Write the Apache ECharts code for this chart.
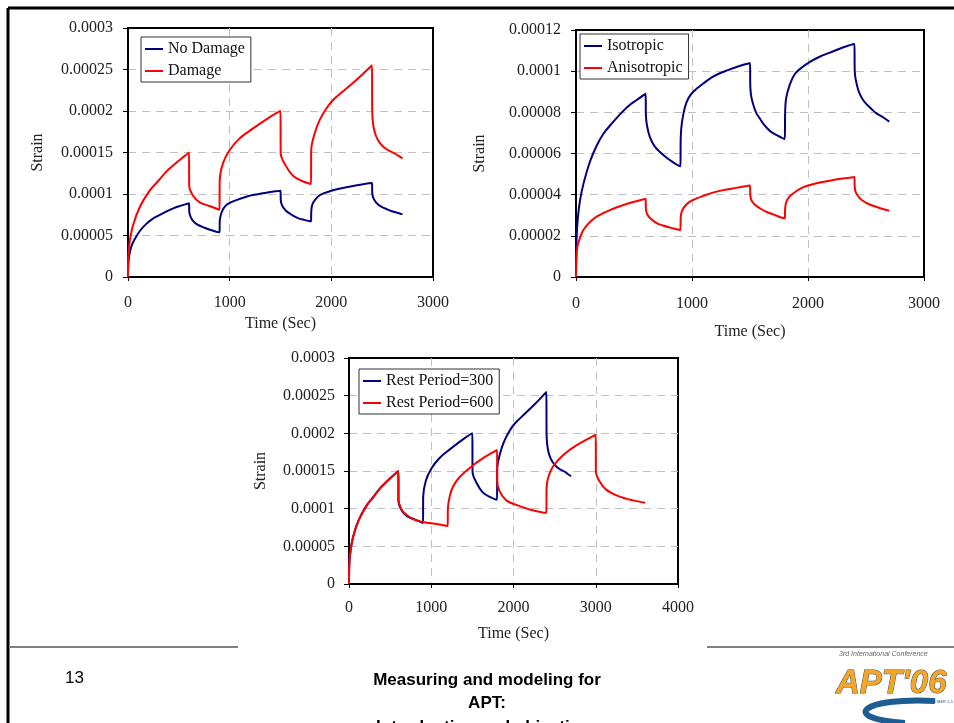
<!DOCTYPE html>
<html lang="en">
<head>
    <meta charset="UTF-8">
    <title>Strain vs Time - Damage / Anisotropy / Rest Period</title>
    <script src="https://cdn.jsdelivr.net/npm/echarts@6/dist/echarts.min.js"></script>
    <style>
        html, body { margin: 0; padding: 0; background: #fff; }
        #main { width: 954px; height: 723px; }
    </style>
</head>
<body>
    <div id="main"></div>
    <script>
        // [time (s), strain] pairs
        var noDamage = [
            [0,0],[2,1.2e-5],[6,2.0e-5],[15,2.8e-5],[34,3.7e-5],[63,4.5e-5],[120,5.6e-5],[180,6.4e-5],[235,6.95e-5],[300,7.4e-5],[379,7.9e-5],[450,8.3e-5],[523,8.6e-5],[600,8.9e-5],
            [603,7.8e-5],[614,7.3e-5],[637,6.8e-5],[680,6.33e-5],[752,5.93e-5],[838,5.57e-5],[900,5.38e-5],
            [903,6.8e-5],[913,7.5e-5],[939,8.25e-5],[970,8.7e-5],[1011,9.0e-5],[1097,9.4e-5],[1170,9.7e-5],[1240,9.9e-5],[1310,1.005e-4],[1384,1.02e-4],[1450,1.032e-4],[1500,1.04e-4],
            [1503,9.2e-5],[1513,8.7e-5],[1535,8.25e-5],[1556,7.95e-5],[1585,7.7e-5],[1614,7.45e-5],[1671,7.1e-5],[1735,6.88e-5],[1800,6.7e-5],
            [1803,8.0e-5],[1812,8.7e-5],[1843,9.35e-5],[1885,9.85e-5],[1929,1.01e-4],[2016,1.045e-4],[2100,1.07e-4],[2188,1.09e-4],[2300,1.115e-4],[2400,1.132e-4],
            [2403,1.0e-4],[2411,9.6e-5],[2430,9.15e-5],[2446,8.9e-5],[2475,8.6e-5],[2504,8.4e-5],[2550,8.15e-5],[2590,7.95e-5],[2650,7.75e-5],[2700,7.55e-5]
        ];
        var damage = [
            [0,0],[3,2.4e-5],[16,4.2e-5],[49,6.2e-5],[115,8.4e-5],[213,1.04e-4],[300,1.16e-4],[377,1.27e-4],[450,1.35e-4],[508,1.41e-4],[600,1.5e-4],
            [602,1.1e-4],[640,9.8e-5],[705,9.0e-5],[803,8.55e-5],[900,8.1e-5],
            [902,1.16e-4],[934,1.37e-4],[1000,1.53e-4],[1098,1.67e-4],[1230,1.79e-4],[1361,1.9e-4],[1500,2.0e-4],
            [1502,1.49e-4],[1557,1.33e-4],[1623,1.22e-4],[1705,1.16e-4],[1800,1.12e-4],
            [1802,1.53e-4],[1836,1.73e-4],[1885,1.89e-4],[1951,2.03e-4],[2016,2.13e-4],[2148,2.27e-4],[2279,2.41e-4],[2400,2.55e-4],
            [2402,2.0e-4],[2410,1.85e-4],[2426,1.75e-4],[2450,1.67e-4],[2475,1.62e-4],[2520,1.56e-4],[2570,1.52e-4],[2623,1.49e-4],[2660,1.46e-4],[2700,1.43e-4]
        ];
        var isotropic = noDamage;
        var anisotropic = [
            [0,0],[2,6e-6],[5,1.0e-5],[11,1.45e-5],[34,1.9e-5],[60,2.25e-5],[92,2.5e-5],[130,2.72e-5],[178,2.93e-5],[235,3.1e-5],[293,3.25e-5],[360,3.4e-5],[436,3.55e-5],[520,3.68e-5],[600,3.8e-5],
            [603,3.3e-5],[614,3.05e-5],[640,2.85e-5],[695,2.62e-5],[750,2.5e-5],[810,2.4e-5],[860,2.33e-5],[900,2.28e-5],
            [903,2.9e-5],[913,3.2e-5],[940,3.45e-5],[982,3.66e-5],[1040,3.82e-5],[1097,3.94e-5],[1180,4.1e-5],[1269,4.22e-5],[1380,4.33e-5],[1500,4.45e-5],
            [1503,3.95e-5],[1513,3.72e-5],[1545,3.5e-5],[1585,3.34e-5],[1640,3.17e-5],[1700,3.04e-5],[1750,2.93e-5],[1800,2.85e-5],
            [1803,3.35e-5],[1813,3.65e-5],[1840,3.9e-5],[1872,4.06e-5],[1930,4.28e-5],[1987,4.42e-5],[2080,4.57e-5],[2188,4.68e-5],[2300,4.78e-5],[2400,4.86e-5],
            [2403,4.35e-5],[2413,4.1e-5],[2440,3.87e-5],[2460,3.75e-5],[2510,3.58e-5],[2561,3.46e-5],[2630,3.33e-5],[2700,3.22e-5]
        ];
        var rest300 = damage;
        var rest600 = [
            [0,0],[3,2.4e-5],[16,4.2e-5],[49,6.2e-5],[115,8.4e-5],[213,1.04e-4],[300,1.16e-4],[377,1.27e-4],[450,1.35e-4],[508,1.41e-4],[600,1.5e-4],
            [602,1.1e-4],[616,1.05e-4],[657,9.6e-5],[778,8.6e-5],[892,8.25e-5],[981,8.1e-5],[1100,7.9e-5],[1200,7.7e-5],
            [1202,1.0e-4],[1224,1.16e-4],[1264,1.29e-4],[1345,1.42e-4],[1467,1.54e-4],[1629,1.67e-4],[1800,1.78e-4],
            [1802,1.36e-4],[1832,1.23e-4],[1913,1.11e-4],[2034,1.05e-4],[2197,9.9e-5],[2400,9.45e-5],
            [2402,1.27e-4],[2419,1.4e-4],[2480,1.56e-4],[2602,1.71e-4],[2764,1.84e-4],[3000,1.98e-4],
            [3002,1.49e-4],[3048,1.36e-4],[3129,1.25e-4],[3291,1.16e-4],[3453,1.11e-4],[3600,1.08e-4]
        ];

        var BLUE = '#000080', RED = '#ff0000';
        var SERIF = '"Liberation Serif", "Times New Roman", serif';

        function fmt(v) { return String(+v.toFixed(6)); }

        function makeX(grid, max, gap, margin) {
            return {
                gridIndex: grid, type: 'value', min: 0, max: max, interval: 1000,
                name: 'Time (Sec)', nameLocation: 'middle', nameGap: gap,
                nameTextStyle: { fontFamily: SERIF, fontSize: 16, color: '#222' },
                axisLine: { lineStyle: { color: '#000', width: 2 } },
                axisTick: { length: 4, lineStyle: { color: '#000', width: 1 } },
                axisLabel: { fontFamily: SERIF, fontSize: 16, color: '#222', margin: margin, formatter: fmt },
                splitLine: { showMinLine: false, showMaxLine: false, lineStyle: { color: '#c0c0c0', type: [8, 6], width: 1 } }
            };
        }
        function makeY(grid, max, interval, gap, margin) {
            return {
                gridIndex: grid, type: 'value', min: 0, max: max, interval: interval,
                name: 'Strain', nameLocation: 'middle', nameGap: gap, nameRotate: 90,
                nameTextStyle: { fontFamily: SERIF, fontSize: 16, color: '#222' },
                axisLine: { show: true, lineStyle: { color: '#000', width: 2 } },
                axisTick: { show: true, length: 5, lineStyle: { color: '#000', width: 1 } },
                axisLabel: { fontFamily: SERIF, fontSize: 16, color: '#222', margin: margin, formatter: fmt },
                splitLine: { showMinLine: false, showMaxLine: false, lineStyle: { color: '#c0c0c0', type: [8, 6], width: 1 } }
            };
        }
        function line(name, data, color, i) {
            return {
                name: name, type: 'line', data: data, xAxisIndex: i, yAxisIndex: i,
                symbol: 'none', smooth: 0.35,
                lineStyle: { color: color, width: 2 }, itemStyle: { color: color }
            };
        }
        function makeLegend(names, left, top) {
            return {
                data: names, left: left, top: top, orient: 'vertical',
                backgroundColor: '#fff', borderColor: '#333', borderWidth: 1, borderRadius: 0,
                padding: [4, 6, 3, 4], itemGap: 6, itemWidth: 18, itemHeight: 2, itemTextGap: 3,
                icon: 'rect', selectedMode: false,
                textStyle: { fontFamily: SERIF, fontSize: 16, color: '#111' }
            };
        }

        var myChart = echarts.init(document.getElementById('main'));
        var option = {
            animation: false,
            backgroundColor: '#fff',
            grid: [
                { left: 128, top: 28, width: 305, height: 249, show: true, borderColor: '#000', borderWidth: 2, backgroundColor: '#fff' },
                { left: 576, top: 30, width: 348, height: 247, show: true, borderColor: '#000', borderWidth: 2, backgroundColor: '#fff' },
                { left: 349, top: 358, width: 329, height: 226, show: true, borderColor: '#000', borderWidth: 2, backgroundColor: '#fff' }
            ],
            xAxis: [makeX(0, 3000, 39, 18), makeX(1, 3000, 47, 19), makeX(2, 4000, 42, 16)],
            yAxis: [makeY(0, 0.0003, 0.00005, 82, 15), makeY(1, 0.00012, 0.00002, 88, 15), makeY(2, 0.0003, 0.00005, 80, 14)],
            legend: [
                makeLegend(['No Damage', 'Damage'], 141, 37),
                makeLegend(['Isotropic', 'Anisotropic'], 580, 34),
                makeLegend(['Rest Period=300', 'Rest Period=600'], 359, 369)
            ],
            series: [
                line('No Damage', noDamage, BLUE, 0),
                line('Damage', damage, RED, 0),
                line('Isotropic', isotropic, BLUE, 1),
                line('Anisotropic', anisotropic, RED, 1),
                line('Rest Period=300', rest300, BLUE, 2),
                line('Rest Period=600', rest600, RED, 2)
            ],
            graphic: [
                // slide frame
                { type: 'line', shape: { x1: 8, y1: 8, x2: 954, y2: 8 }, style: { stroke: '#000', lineWidth: 3 } },
                { type: 'line', shape: { x1: 8, y1: 8, x2: 8, y2: 723 }, style: { stroke: '#000', lineWidth: 3 } },
                // footer rules
                { type: 'line', shape: { x1: 9, y1: 647, x2: 238, y2: 647 }, style: { stroke: '#808080', lineWidth: 2 } },
                { type: 'line', shape: { x1: 707, y1: 647, x2: 954, y2: 647 }, style: { stroke: '#808080', lineWidth: 2 } },
                { type: 'text', left: 65, top: 670, style: { text: '13', font: '17px "Liberation Sans", Arial, sans-serif', fill: '#000' } },
                { type: 'text', x: 487, y: 680, style: { text: 'Measuring and modeling for', font: 'bold 17px "Liberation Sans", Arial, sans-serif', fill: '#000', align: 'center', verticalAlign: 'middle' } },
                { type: 'text', x: 487, y: 703, style: { text: 'APT:', font: 'bold 17px "Liberation Sans", Arial, sans-serif', fill: '#000', align: 'center', verticalAlign: 'middle' } },
                { type: 'text', x: 487, y: 727, style: { text: 'Introduction and objectives', font: 'bold 17px "Liberation Sans", Arial, sans-serif', fill: '#000', align: 'center', verticalAlign: 'middle' } },
                // conference logo
                { type: 'text', x: 839, y: 654, style: { text: '3rd International Conference', font: 'italic 7px "Liberation Sans", Arial, sans-serif', fill: '#666', verticalAlign: 'middle' } },
                { type: 'text', x: 836, y: 684, style: { text: "APT'06", font: 'italic bold 33px "Liberation Sans", Arial, sans-serif', fill: '#f5a623', stroke: '#3a4a6a', lineWidth: 1, verticalAlign: 'middle' } },
                { type: 'text', x: 893, y: 702, style: { text: 'MADRID, SPAIN - OCTOBER 1-5', font: '4px "Liberation Sans", Arial, sans-serif', fill: '#3a5a8a', verticalAlign: 'middle' } },
                { type: 'bezierCurve', shape: { x1: 935, y1: 701, x2: 905, y2: 723, cpx1: 862, cpy1: 697, cpx2: 838, cpy2: 718 }, style: { stroke: '#1e5c94', lineWidth: 6, fill: null } }
            ]
        };
        myChart.setOption(option);
    </script>
</body>
</html>
